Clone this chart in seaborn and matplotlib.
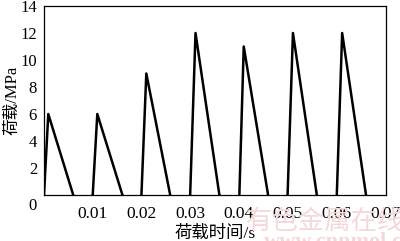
import matplotlib
matplotlib.use("Agg")
import matplotlib.pyplot as plt
import matplotlib.transforms as mtransforms
import seaborn as sns
import pandas as pd

# vertices of the loading sawtooth (time in s, load in MPa), one group per cycle
cycle_id = [1, 1, 1, 2, 2, 2, 3, 3, 3, 4, 4, 4, 5, 5, 5, 6, 6, 6, 7, 7, 7]
time_s = [0.0, 0.00088, 0.0060, 0.0100, 0.01094, 0.0161,
          0.0200, 0.0210, 0.0259, 0.0300, 0.0311, 0.0360,
          0.0401, 0.0410, 0.0460, 0.0500, 0.0511, 0.0560,
          0.0601, 0.0612, 0.0661]
load_mpa = [0.0, 6.0, 0.0, 0.0, 6.0, 0.0,
            0.0, 9.0, 0.0, 0.0, 12.0, 0.0,
            0.0, 11.0, 0.0, 0.0, 12.0, 0.0,
            0.0, 12.0, 0.0]
x_ticks = [0.01, 0.02, 0.03, 0.04, 0.05, 0.06, 0.07]
x_tick_labels = ["0.01", "0.02", "0.03", "0.04", "0.05", "0.06", "0.07"]
y_ticks = [0, 2, 4, 6, 8, 10, 12, 14]
x_label = "荷载时间/s"
y_label = "荷载/MPa"
watermark_cn = "有色金属在线"
watermark_en = "www.cnnmol.com"

sns.set_theme(style="white")
fam = ["Liberation Serif", "Noto Sans CJK SC", "DejaVu Sans"]
plt.rcParams["font.family"] = fam

fig = plt.figure(figsize=(4.0, 2.41), dpi=100)
ax = fig.add_axes([0.11, 0.191, 0.855, 0.784])

df = pd.DataFrame({"cycle": cycle_id, "t": time_s, "p": load_mpa})
sns.lineplot(data=df, x="t", y="p", units="cycle", ax=ax, color="black",
             linewidth=1.8, sort=False, estimator=None, legend=False)

ax.set_xlim(0, 0.0702)
ax.set_ylim(0, 14)
ax.set_xticks(x_ticks)
ax.set_xticklabels(x_tick_labels)
ax.set_yticks(y_ticks)
ax.tick_params(axis="y", direction="in", length=3, width=0.8, pad=5,
               labelsize=12, colors="black")
ax.tick_params(axis="x", length=0, pad=8, labelsize=12.5, colors="black")
for s in ax.spines.values():
    s.set_color("black")
    s.set_linewidth(0.9)

# shift the shared "0" label below the corner as in the reference
lbl0 = ax.get_yticklabels()[0]
lbl0.set_transform(lbl0.get_transform() +
                   mtransforms.ScaledTranslation(0, -9 / 100, fig.dpi_scale_trans))

ax.set_xlabel(x_label, fontsize=12.5, labelpad=3, color="black")
ax.set_ylabel(y_label, fontsize=12, color="black", va="center")
ax.yaxis.set_label_coords(-0.092, 0.5)

# watermark
fig.text(0.615, 0.05, watermark_cn, fontsize=19, color="#f5d8d8",
         family=["Noto Sans CJK SC"], zorder=0)
fig.text(0.66, -0.025, watermark_en, fontsize=16, color="#f5d8d8",
         family=["Liberation Serif"], weight="bold", zorder=0)

fig.savefig("out.png", dpi=100)
